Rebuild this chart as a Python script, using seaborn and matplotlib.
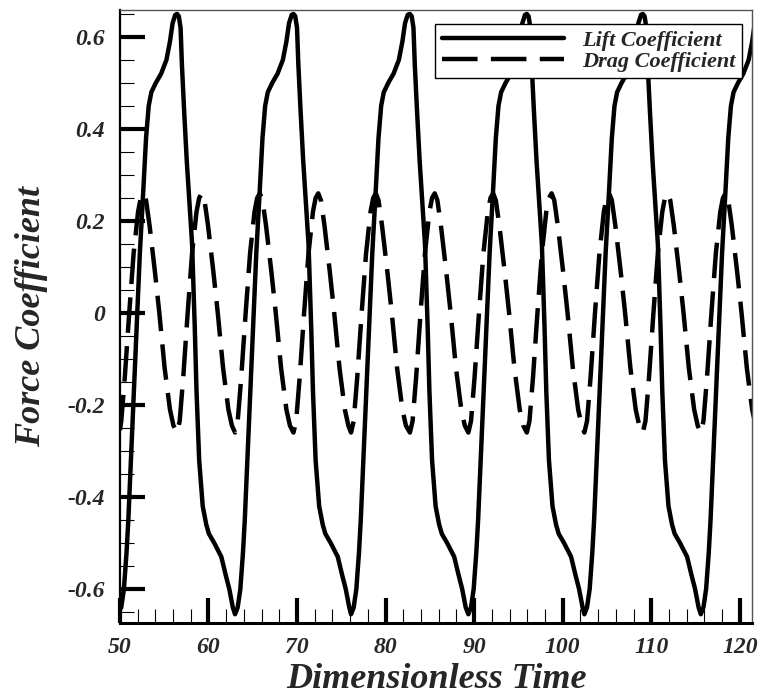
import numpy as np
import pandas as pd
import matplotlib
matplotlib.use("Agg")
import matplotlib.pyplot as plt
from matplotlib.ticker import MultipleLocator, FixedLocator, FixedFormatter
import seaborn as sns

# ==========================================
# Data
# ==========================================
lift_time = [
    50.0, 50.15, 50.45, 50.75, 50.95, 51.35, 51.85, 52.25, 52.65, 52.95, 53.25, 53.55, 54.05, 54.65, 55.25, 55.65, 55.95, 56.25, 56.45,
    56.65, 56.85, 57.0, 57.25, 57.55, 58.15, 58.45, 58.65, 58.95, 59.35, 59.75, 60.05, 60.65, 61.45, 61.95, 62.35, 62.75, 63.0,
    63.3, 63.6, 63.9, 64.1, 64.5, 65.0, 65.4, 65.8, 66.1, 66.4, 66.7, 67.2, 67.8, 68.4, 68.8, 69.1, 69.4, 69.6,
    69.8, 70.0, 70.15, 70.4, 70.7, 71.3, 71.6, 71.8, 72.1, 72.5, 72.9, 73.2, 73.8, 74.6, 75.1, 75.5, 75.9, 76.1,
    76.4, 76.7, 77.0, 77.2, 77.6, 78.1, 78.5, 78.9, 79.2, 79.5, 79.8, 80.3, 80.9, 81.5, 81.9, 82.2, 82.5, 82.75,
    82.95, 83.15, 83.3, 83.55, 83.85, 84.45, 84.75, 84.95, 85.25, 85.65, 86.05, 86.35, 86.95, 87.75, 88.25, 88.65, 89.05, 89.35,
    89.65, 89.95, 90.25, 90.45, 90.85, 91.35, 91.75, 92.15, 92.45, 92.75, 93.05, 93.55, 94.15, 94.75, 95.15, 95.45, 95.75, 95.95,
    96.15, 96.35, 96.5, 96.75, 97.05, 97.65, 97.95, 98.15, 98.45, 98.85, 99.25, 99.55, 100.15, 100.95, 101.45, 101.85, 102.25, 102.45,
    102.75, 103.05, 103.35, 103.55, 103.95, 104.45, 104.85, 105.25, 105.55, 105.85, 106.15, 106.65, 107.25, 107.85, 108.25, 108.55, 108.85, 109.05,
    109.25, 109.45, 109.6, 109.85, 110.15, 110.75, 111.05, 111.25, 111.55, 111.95, 112.35, 112.65, 113.25, 114.05, 114.55, 114.95, 115.35, 115.6,
    115.9, 116.2, 116.5, 116.7, 117.1, 117.6, 118.0, 118.4, 118.7, 119.0, 119.3, 119.8, 120.4, 121.0, 121.4, 121.7,
]
lift_coef = [
    -0.645, -0.64, -0.60, -0.52, -0.45, -0.27, -0.04, 0.13, 0.27, 0.38, 0.45, 0.48, 0.50, 0.52, 0.55, 0.59, 0.63, 0.648, 0.65,
    0.645, 0.62, 0.54, 0.44, 0.33, 0.15, -0.03, -0.17, -0.32, -0.42, -0.46, -0.48, -0.50, -0.53, -0.57, -0.60, -0.64, -0.655,
    -0.64, -0.60, -0.52, -0.45, -0.27, -0.04, 0.13, 0.27, 0.38, 0.45, 0.48, 0.50, 0.52, 0.55, 0.59, 0.63, 0.648, 0.65,
    0.645, 0.62, 0.54, 0.44, 0.33, 0.15, -0.03, -0.17, -0.32, -0.42, -0.46, -0.48, -0.50, -0.53, -0.57, -0.60, -0.64, -0.655,
    -0.64, -0.60, -0.52, -0.45, -0.27, -0.04, 0.13, 0.27, 0.38, 0.45, 0.48, 0.50, 0.52, 0.55, 0.59, 0.63, 0.648, 0.65,
    0.645, 0.62, 0.54, 0.44, 0.33, 0.15, -0.03, -0.17, -0.32, -0.42, -0.46, -0.48, -0.50, -0.53, -0.57, -0.60, -0.64, -0.655,
    -0.64, -0.60, -0.52, -0.45, -0.27, -0.04, 0.13, 0.27, 0.38, 0.45, 0.48, 0.50, 0.52, 0.55, 0.59, 0.63, 0.648, 0.65,
    0.645, 0.62, 0.54, 0.44, 0.33, 0.15, -0.03, -0.17, -0.32, -0.42, -0.46, -0.48, -0.50, -0.53, -0.57, -0.60, -0.64, -0.655,
    -0.64, -0.60, -0.52, -0.45, -0.27, -0.04, 0.13, 0.27, 0.38, 0.45, 0.48, 0.50, 0.52, 0.55, 0.59, 0.63, 0.648, 0.65,
    0.645, 0.62, 0.54, 0.44, 0.33, 0.15, -0.03, -0.17, -0.32, -0.42, -0.46, -0.48, -0.50, -0.53, -0.57, -0.60, -0.64, -0.655,
    -0.64, -0.60, -0.52, -0.45, -0.27, -0.04, 0.13, 0.27, 0.38, 0.45, 0.48, 0.50, 0.52, 0.55, 0.59, 0.63,
]

drag_time = [
    50.0, 50.15, 50.55, 51.05, 51.55, 52.05, 52.35, 52.65, 52.95, 53.35, 53.95, 54.45, 55.05, 55.65, 56.05,
    56.45, 56.75, 57.15, 57.65, 58.15, 58.65, 58.95, 59.25, 59.55, 59.95, 60.55, 61.05, 61.65, 62.25, 62.65,
    63.0, 63.3, 63.7, 64.2, 64.7, 65.2, 65.5, 65.8, 66.1, 66.5, 67.1, 67.6, 68.2, 68.8, 69.2,
    69.6, 69.9, 70.3, 70.8, 71.3, 71.8, 72.1, 72.4, 72.7, 73.1, 73.7, 74.2, 74.8, 75.4, 75.8,
    76.1, 76.4, 76.8, 77.3, 77.8, 78.3, 78.6, 78.9, 79.2, 79.6, 80.2, 80.7, 81.3, 81.9, 82.3,
    82.75, 83.05, 83.45, 83.95, 84.45, 84.95, 85.25, 85.55, 85.85, 86.25, 86.85, 87.35, 87.95, 88.55, 88.95,
    89.35, 89.65, 90.05, 90.55, 91.05, 91.55, 91.85, 92.15, 92.45, 92.85, 93.45, 93.95, 94.55, 95.15, 95.55,
    95.95, 96.25, 96.65, 97.15, 97.65, 98.15, 98.45, 98.75, 99.05, 99.45, 100.05, 100.55, 101.15, 101.75, 102.15,
    102.45, 102.75, 103.15, 103.65, 104.15, 104.65, 104.95, 105.25, 105.55, 105.95, 106.55, 107.05, 107.65, 108.25, 108.65,
    109.05, 109.35, 109.75, 110.25, 110.75, 111.25, 111.55, 111.85, 112.15, 112.55, 113.15, 113.65, 114.25, 114.85, 115.25,
    115.6, 115.9, 116.3, 116.8, 117.3, 117.8, 118.1, 118.4, 118.7, 119.1, 119.7, 120.2, 120.8, 121.4, 121.8,
]
drag_coef = [
    -0.255, -0.235, -0.14, 0.0, 0.13, 0.22, 0.25, 0.26, 0.245, 0.19, 0.09, 0.0, -0.12, -0.21, -0.245,
    -0.26, -0.235, -0.14, 0.0, 0.13, 0.22, 0.25, 0.26, 0.245, 0.19, 0.09, 0.0, -0.12, -0.21, -0.245,
    -0.26, -0.235, -0.14, 0.0, 0.13, 0.22, 0.25, 0.26, 0.245, 0.19, 0.09, 0.0, -0.12, -0.21, -0.245,
    -0.26, -0.235, -0.14, 0.0, 0.13, 0.22, 0.25, 0.26, 0.245, 0.19, 0.09, 0.0, -0.12, -0.21, -0.245,
    -0.26, -0.235, -0.14, 0.0, 0.13, 0.22, 0.25, 0.26, 0.245, 0.19, 0.09, 0.0, -0.12, -0.21, -0.245,
    -0.26, -0.235, -0.14, 0.0, 0.13, 0.22, 0.25, 0.26, 0.245, 0.19, 0.09, 0.0, -0.12, -0.21, -0.245,
    -0.26, -0.235, -0.14, 0.0, 0.13, 0.22, 0.25, 0.26, 0.245, 0.19, 0.09, 0.0, -0.12, -0.21, -0.245,
    -0.26, -0.235, -0.14, 0.0, 0.13, 0.22, 0.25, 0.26, 0.245, 0.19, 0.09, 0.0, -0.12, -0.21, -0.245,
    -0.26, -0.235, -0.14, 0.0, 0.13, 0.22, 0.25, 0.26, 0.245, 0.19, 0.09, 0.0, -0.12, -0.21, -0.245,
    -0.26, -0.235, -0.14, 0.0, 0.13, 0.22, 0.25, 0.26, 0.245, 0.19, 0.09, 0.0, -0.12, -0.21, -0.245,
    -0.26, -0.235, -0.14, 0.0, 0.13, 0.22, 0.25, 0.26, 0.245, 0.19, 0.09, 0.0, -0.12, -0.21, -0.245,
]

x_ticks = [50, 60, 70, 80, 90, 100, 110, 120]
x_labels = ["50", "60", "70", "80", "90", "100", "110", "120"]
y_ticks = [0.6, 0.4, 0.2, 0.0, -0.2, -0.4, -0.6]
y_labels = ["0.6", "0.4", "0.2", "0", "-0.2", "-0.4", "-0.6"]

lift_df = pd.DataFrame({"time": lift_time, "coef": lift_coef})
drag_df = pd.DataFrame({"time": drag_time, "coef": drag_coef})

# ==========================================
# Plot
# ==========================================
sns.set_style("white")
plt.rcParams["font.family"] = ["Liberation Serif", "DejaVu Serif"]
plt.rcParams["font.weight"] = "bold"
plt.rcParams["font.style"] = "italic"
plt.rcParams["axes.labelweight"] = "bold"

fig = plt.figure(figsize=(7.59, 7.0), dpi=100)
ax = fig.add_axes([0.158, 0.11, 0.833, 0.876])

sns.lineplot(data=lift_df, x="time", y="coef", ax=ax, color="black", lw=3.2,
             estimator=None, sort=False, label="Lift Coefficient")
sns.lineplot(data=drag_df, x="time", y="coef", ax=ax, color="black", lw=3.2,
             estimator=None, sort=False, label="Drag Coefficient")
ax.lines[1].set_dashes((8.0, 3.0))

ax.set_xlim(50, 121.4)
ax.set_ylim(-0.674, 0.659)

ax.xaxis.set_major_locator(FixedLocator(x_ticks))
ax.xaxis.set_major_formatter(FixedFormatter(x_labels))
ax.yaxis.set_major_locator(FixedLocator(y_ticks))
ax.yaxis.set_major_formatter(FixedFormatter(y_labels))
ax.xaxis.set_minor_locator(MultipleLocator(2))
ax.yaxis.set_minor_locator(MultipleLocator(0.05))

ax.tick_params(which="major", direction="in", length=18, width=3, color="black",
               labelsize=17, bottom=True, left=True, top=False, right=False)
ax.tick_params(axis="y", which="major", pad=11)
ax.tick_params(axis="x", which="major", pad=10)
ax.tick_params(which="minor", direction="in", length=10, width=0.8, color="black",
               bottom=True, left=True, top=False, right=False)

for side in ["left", "bottom"]:
    ax.spines[side].set_color("black")
ax.spines["left"].set_linewidth(1.6)
ax.spines["bottom"].set_linewidth(2.2)
for side in ["top", "right"]:
    ax.spines[side].set_color("#555555")
    ax.spines[side].set_linewidth(1.0)

ax.set_xlabel("Dimensionless Time", fontsize=26, fontweight="bold", labelpad=4)
ax.set_ylabel("Force Coefficient", fontsize=26, fontweight="bold", labelpad=14)

leg = ax.legend(loc="upper right", bbox_to_anchor=(0.984, 0.977), borderaxespad=0,
                prop={"size": 16, "weight": "bold", "style": "italic"},
                frameon=True, fancybox=False, framealpha=1,
                edgecolor="black", handlelength=5.5, handletextpad=0.8,
                labelspacing=0.0, borderpad=0.3)
leg.get_frame().set_linewidth(1.0)

plt.savefig("out.png", dpi=100)
plt.close()
